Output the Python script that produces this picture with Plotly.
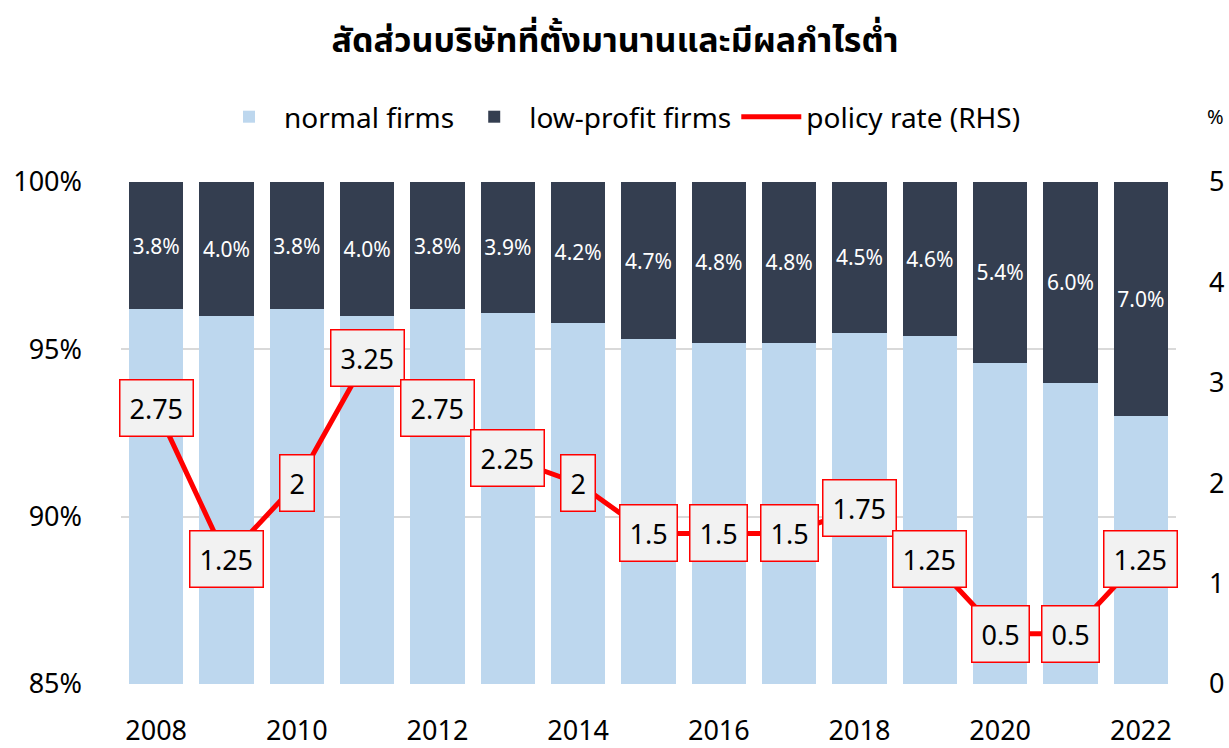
import plotly.graph_objects as go

years = list(range(2008, 2023))
low_profit = [3.8, 4.0, 3.8, 4.0, 3.8, 3.9, 4.2, 4.7, 4.8, 4.8, 4.5, 4.6, 5.4, 6.0, 7.0]
normal = [round(100 - v, 1) for v in low_profit]
policy_rate = [2.75, 1.25, 2, 3.25, 2.75, 2.25, 2, 1.5, 1.5, 1.5, 1.75, 1.25, 0.5, 0.5, 1.25]
policy_labels = ["2.75", "1.25", "2", "3.25", "2.75", "2.25", "2", "1.5", "1.5", "1.5", "1.75", "1.25", "0.5", "0.5", "1.25"]
x_ticks = list(range(2008, 2023, 2))
left_ticks = [85, 90, 95, 100]

FONT = "Noto Sans, Noto Sans Thai, Tahoma, sans-serif"

fig = go.Figure()
fig.add_trace(go.Bar(
    x=years, y=normal, name="normal firms",
    marker=dict(color="#BDD7EE", line=dict(width=0)),
    hoverinfo="skip",
))
fig.add_trace(go.Bar(
    x=years, y=low_profit, name="low-profit firms",
    marker=dict(color="#343E50", line=dict(width=0)),
    text=[f"{v:.1f}%" for v in low_profit],
    textposition="inside", insidetextanchor="middle", textangle=0,
    textfont=dict(color="white", size=21, family=FONT),
    constraintext="none",
    hoverinfo="skip",
))
fig.add_trace(go.Scatter(
    x=years, y=policy_rate, name="policy rate (RHS)", yaxis="y2",
    mode="lines", line=dict(color="#FF0000", width=5),
))

for xv, yv, lab in zip(years, policy_rate, policy_labels):
    fig.add_annotation(
        x=xv, y=yv, xref="x", yref="y2", text=lab, showarrow=False,
        font=dict(size=27, color="black", family=FONT),
        bgcolor="#F2F2F2", bordercolor="#FF0000", borderwidth=1.5,
        borderpad=9, xanchor="center", yanchor="middle",
    )

# "%" unit label above right axis
fig.add_annotation(
    x=(1215 - 121) / 1055, y=(684 - 117) / 502, xref="paper", yref="paper",
    text="%", showarrow=False, xanchor="center", yanchor="middle",
    font=dict(size=20, color="black", family=FONT),
)

fig.update_layout(
    width=1229, height=748,
    margin=dict(l=121, r=53, t=182, b=64, autoexpand=False),
    paper_bgcolor="white", plot_bgcolor="white",
    barmode="stack", bargap=0.23,
    font=dict(family=FONT, color="black"),
    title=dict(
        text="<b>สัดส่วนบริษัทที่ตั้งมานานและมีผลกำไรต่ำ</b>",
        x=615 / 1229, xanchor="center", y=1 - 40 / 748, yanchor="middle",
        font=dict(size=34, color="black", family=FONT),
    ),
    legend=dict(
        orientation="h", x=(620 - 121) / 1055, xanchor="center",
        y=(684 - 117) / 502, yanchor="middle",
        font=dict(size=28, color="black", family=FONT),
        traceorder="normal", itemwidth=60,
    ),
    xaxis=dict(
        range=[2007.5, 2022.5], tickvals=x_ticks, ticktext=[str(v) for v in x_ticks],
        showgrid=False, zeroline=False, showline=False,
        tickfont=dict(size=27, family=FONT), ticklabelstandoff=28, ticks="",
    ),
    yaxis=dict(
        range=[85, 100], tickvals=left_ticks, ticktext=[f"{v}%" for v in left_ticks],
        showgrid=True, gridcolor="#D9D9D9", gridwidth=1.5, zeroline=False, showline=False,
        tickfont=dict(size=27, family=FONT), ticklabelstandoff=38, ticks="",
    ),
    yaxis2=dict(
        range=[0, 5], dtick=1, overlaying="y", side="right",
        showgrid=False, zeroline=False, showline=False,
        tickfont=dict(size=27, family=FONT), ticklabelstandoff=32, ticks="",
    ),
)

fig.write_html(
    "out.html",
    config={"displayModeBar": False},
    post_script="document.body.style.margin='0px';document.body.style.padding='0px';",
)
